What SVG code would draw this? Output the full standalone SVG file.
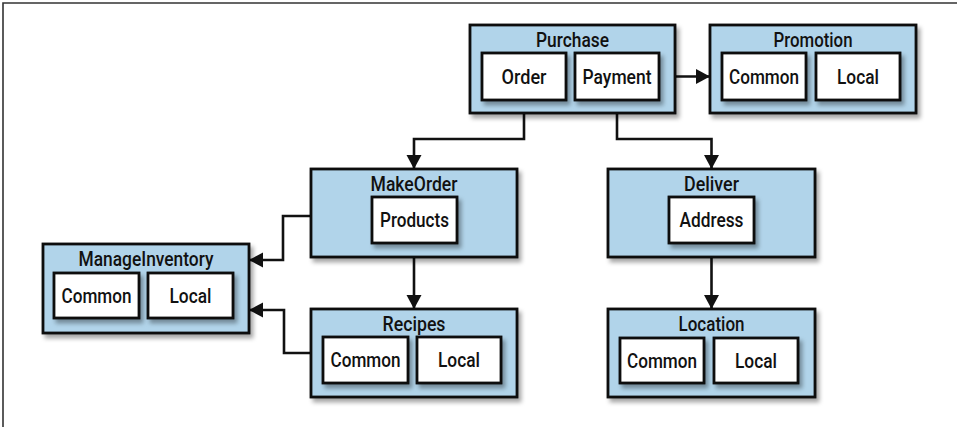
<svg xmlns="http://www.w3.org/2000/svg" width="957" height="427" viewBox="0 0 957 427">
  <style>
    .outer { fill: #b1d4ea; stroke: #111; stroke-width: 2.8; filter: url(#shadow); }
    .inner { fill: #ffffff; stroke: #111; stroke-width: 2.8; filter: url(#shadow); }
    .title, .label { font-family: Roboto, "Liberation Sans", sans-serif; font-weight: 500; font-size: 20px; fill: #111; text-anchor: middle; }
    .conn { fill: none; stroke: #111; stroke-width: 2.6; marker-end: url(#arrow); }
    .frame { fill: none; stroke: #333; stroke-width: 1.6; }
  </style>
  <defs>
    <filter id="shadow" x="-10%" y="-10%" width="130%" height="140%">
      <feDropShadow dx="3" dy="4" stdDeviation="2.2" flood-color="#000" flood-opacity="0.35"/>
    </filter>
    <marker id="arrow" markerUnits="userSpaceOnUse" markerWidth="16" markerHeight="16" refX="14" refY="7.5" orient="auto">
      <path d="M0,0 L14,7.5 L0,15 Z" fill="#111"/>
    </marker>
  </defs>
  <rect width="957" height="427" fill="#ffffff"/>
  <polyline class="frame" points="3,427 3,3 957,3"/>

  <g id="connectors">
    <line class="conn" x1="659" y1="76.5" x2="710" y2="76.5"/>
    <polyline class="conn" points="524,100 524,139 414,139 414,169"/>
    <polyline class="conn" points="617,100 617,139 711.5,139 711.5,169"/>
    <polyline class="conn" points="311,216 283,216 283,260 249,260"/>
    <polyline class="conn" points="311,353 284,353 284,310 249,310"/>
    <line class="conn" x1="414" y1="257" x2="414" y2="309"/>
    <line class="conn" x1="711.5" y1="257" x2="711.5" y2="309"/>
  </g>

  <g id="purchase">
    <rect class="outer" x="470" y="25" width="205" height="88"/>
    <text class="title" x="572.5" y="47" textLength="73" lengthAdjust="spacingAndGlyphs">Purchase</text>
    <g id="purchase-order">
      <rect class="inner" x="482" y="53" width="84" height="47"/>
      <text class="label" x="524" y="83.5" textLength="45" lengthAdjust="spacingAndGlyphs">Order</text>
    </g>
    <g id="purchase-payment">
      <rect class="inner" x="575" y="53" width="84" height="47"/>
      <text class="label" x="617" y="83.5" textLength="69" lengthAdjust="spacingAndGlyphs">Payment</text>
    </g>
  </g>

  <g id="promotion">
    <rect class="outer" x="710" y="25" width="206" height="88"/>
    <text class="title" x="813" y="47" textLength="79" lengthAdjust="spacingAndGlyphs">Promotion</text>
    <g id="promotion-common">
      <rect class="inner" x="722" y="53" width="84" height="47"/>
      <text class="label" x="764" y="83.5" textLength="70" lengthAdjust="spacingAndGlyphs">Common</text>
    </g>
    <g id="promotion-local">
      <rect class="inner" x="816" y="53" width="84" height="47"/>
      <text class="label" x="858" y="83.5" textLength="42" lengthAdjust="spacingAndGlyphs">Local</text>
    </g>
  </g>

  <g id="makeorder">
    <rect class="outer" x="311" y="169" width="206" height="88"/>
    <text class="title" x="414" y="191" textLength="87" lengthAdjust="spacingAndGlyphs">MakeOrder</text>
    <g id="makeorder-products">
      <rect class="inner" x="372" y="197" width="85" height="46"/>
      <text class="label" x="414.5" y="227" textLength="69" lengthAdjust="spacingAndGlyphs">Products</text>
    </g>
  </g>

  <g id="deliver">
    <rect class="outer" x="608" y="169" width="207" height="88"/>
    <text class="title" x="711.5" y="191" textLength="55" lengthAdjust="spacingAndGlyphs">Deliver</text>
    <g id="deliver-address">
      <rect class="inner" x="669" y="197" width="85" height="46"/>
      <text class="label" x="711.5" y="227" textLength="64" lengthAdjust="spacingAndGlyphs">Address</text>
    </g>
  </g>

  <g id="manageinventory">
    <rect class="outer" x="43" y="244" width="206" height="89"/>
    <text class="title" x="146" y="266" textLength="135" lengthAdjust="spacingAndGlyphs">ManageInventory</text>
    <g id="manageinventory-common">
      <rect class="inner" x="54" y="273" width="85" height="45"/>
      <text class="label" x="96.5" y="302.5" textLength="70" lengthAdjust="spacingAndGlyphs">Common</text>
    </g>
    <g id="manageinventory-local">
      <rect class="inner" x="148" y="273" width="85" height="45"/>
      <text class="label" x="190.5" y="302.5" textLength="42" lengthAdjust="spacingAndGlyphs">Local</text>
    </g>
  </g>

  <g id="recipes">
    <rect class="outer" x="311" y="309" width="206" height="88"/>
    <text class="title" x="414" y="331" textLength="63" lengthAdjust="spacingAndGlyphs">Recipes</text>
    <g id="recipes-common">
      <rect class="inner" x="323" y="337" width="85" height="46"/>
      <text class="label" x="365.5" y="367" textLength="70" lengthAdjust="spacingAndGlyphs">Common</text>
    </g>
    <g id="recipes-local">
      <rect class="inner" x="417" y="337" width="84" height="46"/>
      <text class="label" x="459" y="367" textLength="42" lengthAdjust="spacingAndGlyphs">Local</text>
    </g>
  </g>

  <g id="location">
    <rect class="outer" x="608" y="309" width="207" height="88"/>
    <text class="title" x="711.5" y="331" textLength="66" lengthAdjust="spacingAndGlyphs">Location</text>
    <g id="location-common">
      <rect class="inner" x="620" y="338" width="84" height="45"/>
      <text class="label" x="662" y="367.5" textLength="70" lengthAdjust="spacingAndGlyphs">Common</text>
    </g>
    <g id="location-local">
      <rect class="inner" x="714" y="338" width="84" height="45"/>
      <text class="label" x="756" y="367.5" textLength="42" lengthAdjust="spacingAndGlyphs">Local</text>
    </g>
  </g>
</svg>
